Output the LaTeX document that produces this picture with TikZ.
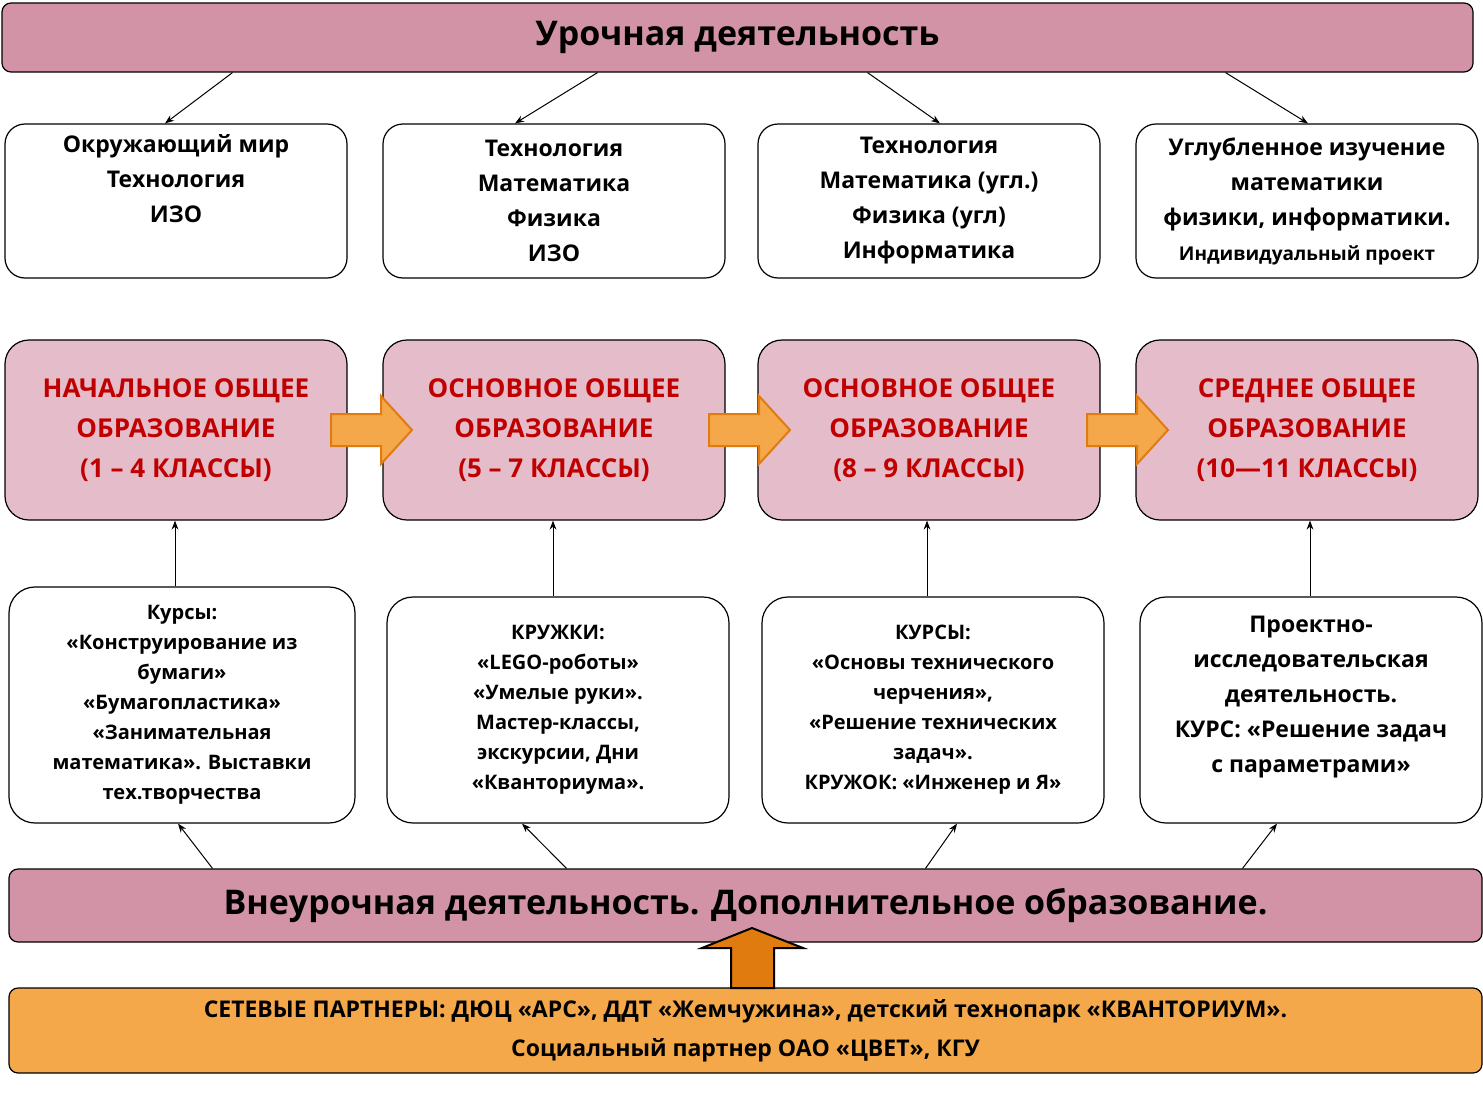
\documentclass[tikz,border=0pt]{standalone}
\usepackage{fontspec}
\setmainfont{Open Sans}
\usetikzlibrary{arrows.meta,positioning}
\definecolor{barpink}{HTML}{D293A6}
\definecolor{lightpink}{HTML}{E5BDCA}
\definecolor{darkred}{HTML}{C00000}
\definecolor{lightorange}{HTML}{F4A84A}
\definecolor{darkorange}{HTML}{E07B10}
\begin{document}
\begin{tikzpicture}[x=1pt,y=-1pt,
	BarStyle/.style={draw, line width=1.2pt, fill=barpink, rounded corners=9pt, inner sep=0pt,
		font=\bfseries\fontsize{34}{40}\selectfont},
	SubjStyle/.style={draw, line width=1.2pt, fill=white, rounded corners=20pt, inner sep=0pt,
		minimum width=342, minimum height=154, align=center, font=\bfseries\fontsize{23}{35}\selectfont},
	LevelStyle/.style={draw, line width=1.2pt, fill=lightpink, rounded corners=24pt, inner sep=0pt,
		minimum width=342, minimum height=180, align=center, text=darkred,
		font=\bfseries\fontsize{26}{40}\selectfont},
	ExtraStyle/.style={draw, line width=1.2pt, fill=white, rounded corners=26pt, inner sep=0pt,
		minimum width=342, minimum height=226, align=center, font=\bfseries\fontsize{20}{30}\selectfont},
	StepArrow/.style={draw=darkorange, line width=2pt, fill=lightorange},
	LinkArrow/.style={-{Stealth[length=9pt]}, line width=1pt}]
	\useasboundingbox (0,0) rectangle (1483,1100);
	% top bar
	\node [BarStyle, minimum width=1471, minimum height=69] (top) at (737.5,37.5) {Урочная деятельность};
	% subjects
	\node [SubjStyle] (s1) at (176,201) {Окружающий мир\\Технология\\ИЗО\\[0pt]\strut};
	\node [SubjStyle] (s2) at (554,201) {Технология\\Математика\\Физика\\ИЗО};
	\node [SubjStyle] (s3) at (929,201) {Технология\\Математика (угл.)\\Физика (угл)\\Информатика};
	\node [SubjStyle] (s4) at (1307,201) {Углубленное изучение\\математики\\физики, информатики.\\{\fontsize{19}{30}\selectfont Индивидуальный проект}};
	% levels
	\node [LevelStyle] (l1) at (176,430) {НАЧАЛЬНОЕ ОБЩЕЕ\\ОБРАЗОВАНИЕ\\(1 -- 4 КЛАССЫ)};
	\node [LevelStyle] (l2) at (554,430) {ОСНОВНОЕ ОБЩЕЕ\\ОБРАЗОВАНИЕ\\(5 -- 7 КЛАССЫ)};
	\node [LevelStyle] (l3) at (929,430) {ОСНОВНОЕ ОБЩЕЕ\\ОБРАЗОВАНИЕ\\(8 -- 9 КЛАССЫ)};
	\node [LevelStyle] (l4) at (1307,430) {СРЕДНЕЕ ОБЩЕЕ\\ОБРАЗОВАНИЕ\\(10---11 КЛАССЫ)};
	% orange step arrows
	\foreach \x in {331,709,1087}
		\draw [StepArrow] (\x,414) -- (\x+50,414) -- (\x+50,396) -- (\x+81,430)
			-- (\x+50,464) -- (\x+50,446) -- (\x,446) -- cycle;
	% extracurricular boxes
	\node [ExtraStyle, minimum width=346, minimum height=236] (e1) at (182,705) {Курсы:\\«Конструирование из\\бумаги»\\«Бумагопластика»\\«Занимательная\\математика». Выставки\\тех.творчества};
	\node [ExtraStyle] (e2) at (558,710) {КРУЖКИ:\\«LEGO-роботы»\\«Умелые руки».\\Мастер-классы,\\экскурсии, Дни\\«Кванториума».};
	\node [ExtraStyle] (e3) at (933,710) {КУРСЫ:\\«Основы технического\\черчения»,\\ «Решение технических\\задач».\\КРУЖОК: «Инженер и Я»};
	\node [ExtraStyle, font=\bfseries\fontsize{23}{35}\selectfont] (e4) at (1311,710) {Проектно-\\исследовательская\\деятельность.\\КУРС: «Решение задач\\с параметрами»\\[-4pt]};
	% bottom bars
	\node [BarStyle, minimum width=1473, minimum height=73] (bottom) at (745.5,905.5) {Внеурочная деятельность. Дополнительное образование.};
	\node [BarStyle, fill=lightorange, minimum width=1473, minimum height=85, align=center,
		font=\bfseries\fontsize{23}{39}\selectfont] (partners) at (745.5,1030.5)
		{СЕТЕВЫЕ ПАРТНЕРЫ: ДЮЦ «АРС», ДДТ «Жемчужина», детский технопарк «КВАНТОРИУМ».\\Социальный партнер ОАО «ЦВЕТ», КГУ};
	\draw [line width=2pt, fill=darkorange] (731,988) -- (731,948) -- (702,948) -- (752,928)
		-- (803,948) -- (774,948) -- (774,988) -- cycle;
	% connectors
	\draw [LinkArrow] ([xshift=-505]top.south) -- ([xshift=-11]s1.north);
	\draw [LinkArrow] ([xshift=-140]top.south) -- ([xshift=-39]s2.north);
	\draw [LinkArrow] ([xshift=130]top.south) -- ([xshift=11]s3.north);
	\draw [LinkArrow] ([xshift=488]top.south) -- ([xshift=1]s4.north);
	\draw [LinkArrow] ([xshift=-7]e1.north) -- ([xshift=-1]l1.south);
	\draw [LinkArrow] ([xshift=-5]e2.north) -- ([xshift=-1]l2.south);
	\draw [LinkArrow] ([xshift=-6]e3.north) -- ([xshift=-2]l3.south);
	\draw [LinkArrow] ([xshift=-1]e4.north) -- ([xshift=3]l4.south);
	\draw [LinkArrow] ([xshift=-533]bottom.north) -- ([xshift=-4]e1.south);
	\draw [LinkArrow] ([xshift=-179]bottom.north) -- ([xshift=-36]e2.south);
	\draw [LinkArrow] ([xshift=180]bottom.north) -- ([xshift=24]e3.south);
	\draw [LinkArrow] ([xshift=497]bottom.north) -- ([xshift=-34]e4.south);
\end{tikzpicture}
\end{document}
